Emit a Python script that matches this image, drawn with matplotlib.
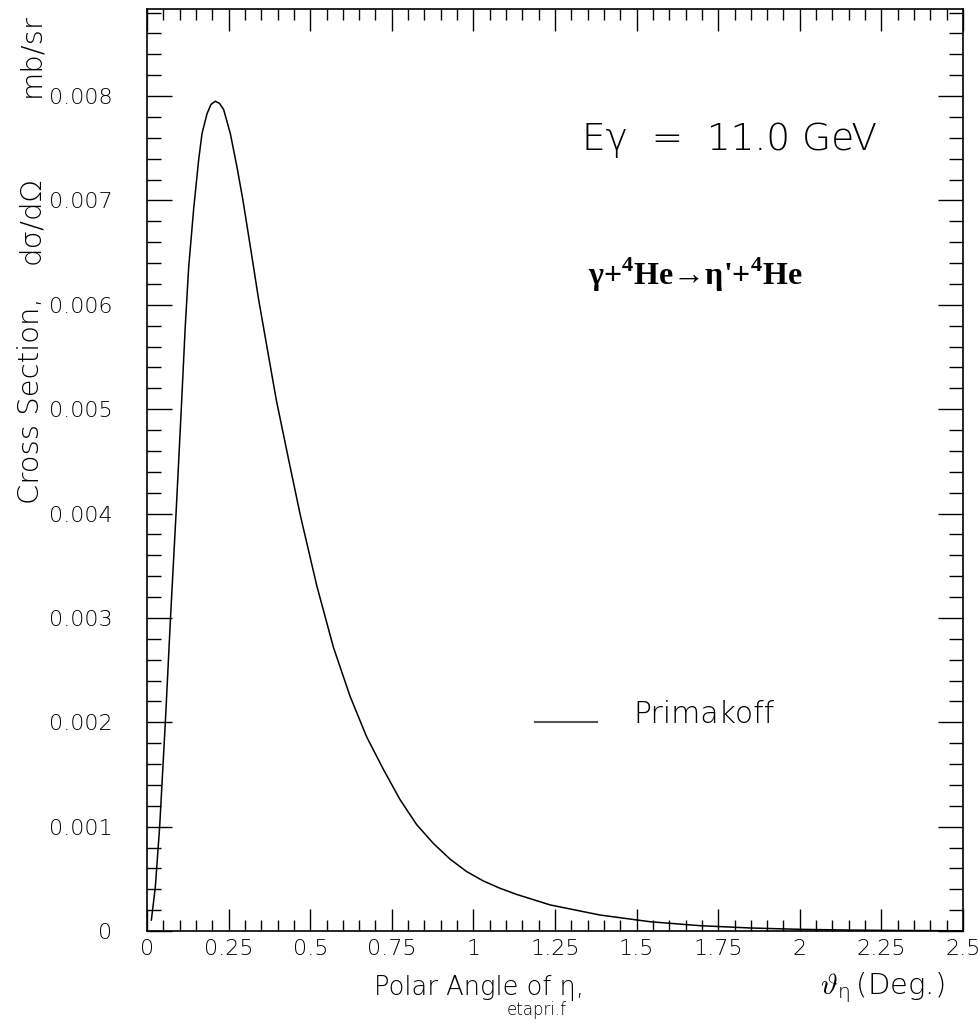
import matplotlib
matplotlib.use("Agg")
import matplotlib.pyplot as plt
from matplotlib.ticker import MultipleLocator, FixedLocator

plt.rcParams['mathtext.fontset'] = 'custom'
plt.rcParams['mathtext.rm'] = 'DejaVu Sans:light'
plt.rcParams['mathtext.it'] = 'DejaVu Sans:light'
plt.rcParams['mathtext.bf'] = 'Liberation Serif:bold'

# Data
theta = [0.0133, 0.0255, 0.0388, 0.0562, 0.072, 0.089, 0.105, 0.117, 0.1277, 0.143,
         0.1583, 0.1685, 0.1838, 0.196, 0.2094, 0.222, 0.2349, 0.2553, 0.2757, 0.294,
         0.318, 0.342, 0.369, 0.396, 0.435, 0.470, 0.520, 0.571, 0.622, 0.673,
         0.724, 0.775, 0.826, 0.877, 0.928, 0.979, 1.030, 1.081, 1.133, 1.184,
         1.235, 1.388, 1.541, 1.694, 1.847, 2.000, 2.150, 2.300, 2.500]
xsec = [0.000105, 0.00042, 0.00100, 0.00200, 0.00300, 0.00400, 0.00500, 0.00578, 0.00636, 0.00692,
        0.00739, 0.00764, 0.00783, 0.00792, 0.00795, 0.00793, 0.00787, 0.00764, 0.00732, 0.00700,
        0.00653, 0.00605, 0.00557, 0.00509, 0.00450, 0.00398, 0.00331, 0.00272, 0.00225, 0.00186,
        0.00155, 0.00126, 0.00102, 0.00084, 0.00069, 0.00057, 0.00048, 0.00041, 0.00035, 0.00030,
        0.00025, 0.000153, 0.000089, 0.000051, 0.000029, 0.000016, 0.000009, 0.000005, 0.000002]

xticks = [0, 0.25, 0.5, 0.75, 1, 1.25, 1.5, 1.75, 2, 2.25, 2.5]
xticklabels = ["0", "0.25", "0.5", "0.75", "1", "1.25", "1.5", "1.75", "2", "2.25", "2.5"]
yticks = [0, 0.001, 0.002, 0.003, 0.004, 0.005, 0.006, 0.007, 0.008]
yticklabels = ["0", "0.001", "0.002", "0.003", "0.004", "0.005", "0.006", "0.007", "0.008"]

TXT = 'black'
FONT = dict(family='DejaVu Sans', fontweight='light', color=TXT)

fig = plt.figure(figsize=(9.79, 10.26), dpi=100)
ax = fig.add_axes([147/979, 1-931/1026, (963-147)/979, (931-9)/1026])

ax.plot(theta, xsec, color='black', lw=1.1)
ax.set_xlim(0, 2.5)
ax.set_ylim(0, 0.008834)

ax.xaxis.set_major_locator(FixedLocator(xticks))
ax.xaxis.set_minor_locator(MultipleLocator(0.05))
ax.yaxis.set_major_locator(FixedLocator(yticks))
ax.yaxis.set_minor_locator(MultipleLocator(0.0002))
ax.set_xticklabels(xticklabels, fontsize=16, **FONT)
ax.set_yticklabels(yticklabels, fontsize=16, **FONT)

ax.tick_params(which='both', direction='in', top=True, right=True, width=1.0, colors='black')
ax.tick_params(axis='x', which='major', length=16, pad=6, labelcolor=TXT)
ax.tick_params(axis='x', which='minor', length=8)
ax.tick_params(axis='y', which='major', length=18, pad=25, labelcolor=TXT)
ax.tick_params(axis='y', which='minor', length=10)
for s in ax.spines.values():
    s.set_linewidth(1.2)

# Y axis label (three spaced pieces)
fig.text(31/979, 1-401/1026, "Cross Section,", rotation=90, ha='center', va='center',
         fontsize=21, **FONT)
fig.text(31/979, 1-220/1026, "dσ/dΩ", rotation=90, ha='center', va='center',
         fontsize=21, **FONT)
fig.text(31/979, 1-55/1026, "mb/sr", rotation=90, ha='center', va='center',
         fontsize=21, **FONT)

# X axis label
fig.text(479/979, 1-988/1026, "Polar Angle of η,", ha='center', va='center',
         fontsize=18.5, **FONT)
fig.text(882/979, 1-988/1026, r"$\vartheta_\eta\,$(Deg.)", ha='center', va='center',
         fontsize=21, **FONT)
fig.text(537/979, 1-1010/1026, "etapri.f", ha='center', va='center', fontsize=12, **FONT)

# Annotations
fig.text(730/979, 1-140/1026, "Eγ  =  11.0 GeV", ha='center', va='center',
         fontsize=27, **FONT)
fig.text(695/979, 1-275/1026, r"$\mathbf{\gamma}$+$^{\mathbf{4}}$He→$\mathbf{\eta}$'+$^{\mathbf{4}}$He",
         ha='center', va='center', fontsize=23, family='Liberation Serif',
         fontweight='bold', color='black')

# Legend
ax.plot([1.19, 1.38], [0.00200, 0.00200], color='#555555', lw=1.5)
ax.text(1.49, 0.00207, "Primakoff", ha='left', va='center', fontsize=21.5, **FONT)

fig.savefig("out.png", dpi=100)
